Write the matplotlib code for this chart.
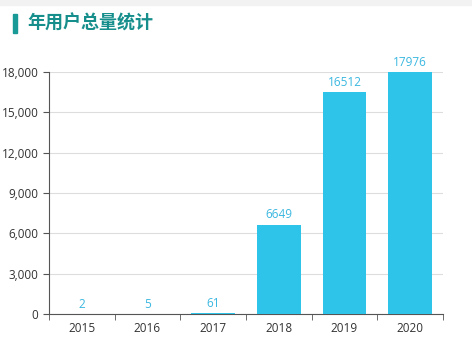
import matplotlib
matplotlib.use("Agg")
import matplotlib.pyplot as plt
import numpy as np

years = ["2015", "2016", "2017", "2018", "2019", "2020"]
users = [2, 5, 61, 6649, 16512, 17976]
yticks = [0, 3000, 6000, 9000, 12000, 15000, 18000]

plt.rcParams['font.family'] = ['Open Sans', 'Noto Sans CJK SC', 'DejaVu Sans']

fig = plt.figure(figsize=(4.72, 3.63), dpi=100)
fig.patch.set_facecolor('white')
ax = fig.add_axes([49/472, 49/363, 394/472, 242/363])

x = np.arange(len(years))
bars = ax.bar(x, users, width=0.67, color='#2ec4ea', zorder=3)
for xi, v in zip(x, users):
    ax.text(xi, v + 250, str(v), ha='center', va='bottom', color='#3ab7e0', fontsize=8.5)

ax.set_xlim(-0.5, len(years) - 0.5)
ax.set_ylim(0, 18000)
ax.set_yticks(yticks)
ax.set_yticklabels([f"{t:,}" for t in yticks])
ax.set_xticks(x)
ax.set_xticklabels(years)
ax.set_xticks(np.arange(-0.5, len(years), 1), minor=True)
ax.tick_params(axis='x', which='major', length=0, pad=6, labelsize=8.5, colors='#333333')
ax.tick_params(axis='x', which='minor', length=4, color='#555555')
ax.tick_params(axis='y', length=4, color='#555555', labelsize=8.5, labelcolor='#333333')
for s in ['top', 'right']:
    ax.spines[s].set_visible(False)
ax.spines['left'].set_color('#555555')
ax.spines['bottom'].set_color('#555555')
ax.grid(axis='y', color='#dddddd', linewidth=0.8, zorder=0)
ax.set_axisbelow(True)

# title with bar
fig.patches.append(plt.Rectangle((13/472, 1 - 33/363), 4/472, 19/363, transform=fig.transFigure,
                                 color='#1a9a96', figure=fig))
fig.text(27/472, 1 - 23.5/363, "年用户总量统计", fontsize=13, fontweight='bold', color='#168f8c',
         va='center', ha='left', family=['Noto Sans CJK SC', 'DejaVu Sans'])
# light top strip
fig.patches.append(plt.Rectangle((0, 1 - 5/363), 1, 5/363, transform=fig.transFigure,
                                 color='#f2f2f2', figure=fig))

fig.savefig("out.png", dpi=100)
